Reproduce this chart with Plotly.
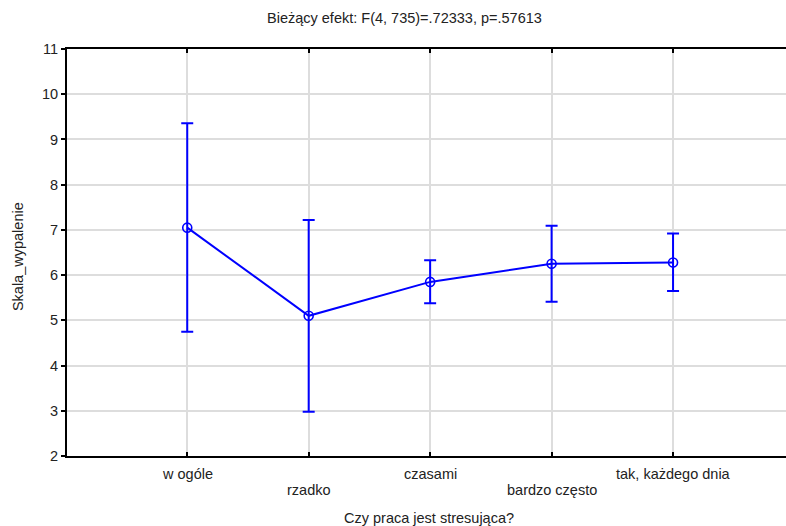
import plotly.graph_objects as go

categories = ["w ogóle", "rzadko", "czasami", "bardzo często", "tak, każdego dnia"]
means = [7.05, 5.10, 5.85, 6.25, 6.28]
upper = [9.36, 7.22, 6.33, 7.09, 6.92]
lower = [4.75, 2.98, 5.38, 5.41, 5.65]
y_ticks = [2, 3, 4, 5, 6, 7, 8, 9, 10, 11]

title_text = "Bieżący efekt: F(4, 735)=.72333, p=.57613"
x_title = "Czy praca jest stresująca?"
y_title = "Skala_wypalenie"

BLUE = "#0000FF"
FONT = "Liberation Sans, Arial, sans-serif"
FS = 14.5
TXT = "#222"

err_plus = [u - m for u, m in zip(upper, means)]
err_minus = [m - l for m, l in zip(means, lower)]

fig = go.Figure()
fig.add_trace(go.Scatter(
    x=categories, y=means, mode="lines+markers",
    line=dict(color=BLUE, width=2),
    marker=dict(symbol="circle-open", size=9, color=BLUE, line=dict(width=1.6, color=BLUE)),
    error_y=dict(type="data", symmetric=False, array=err_plus, arrayminus=err_minus,
                 color=BLUE, thickness=2, width=6),
    showlegend=False,
))

annotations = []
for i, c in enumerate(categories):
    annotations.append(dict(
        x=c, xref="x", y=0, yref="paper", yanchor="top", xanchor="center", showarrow=False,
        text=c, yshift=-8 if i % 2 == 0 else -24,
        font=dict(family=FONT, size=FS, color=TXT),
    ))
annotations.append(dict(text=title_text, xref="paper", yref="paper", x=0.469, y=1.076,
                        xanchor="center", yanchor="middle",
                        showarrow=False, font=dict(family=FONT, size=FS, color=TXT)))
annotations.append(dict(text=x_title, xref="paper", yref="paper", x=0.503, y=-0.152,
                        xanchor="center", yanchor="middle",
                        showarrow=False, font=dict(family=FONT, size=FS, color=TXT)))
annotations.append(dict(text=y_title, xref="paper", yref="paper", x=-0.068, y=0.489,
                        xanchor="center", yanchor="middle",
                        textangle=-90, showarrow=False, font=dict(family=FONT, size=FS, color=TXT)))

fig.update_layout(
    width=786, height=526,
    margin=dict(l=67, r=0, t=49, b=70),
    paper_bgcolor="white", plot_bgcolor="white",
    font=dict(family=FONT, size=FS, color=TXT),
    annotations=annotations,
    xaxis=dict(
        type="category", range=[-0.99, 4.93],
        showgrid=True, gridcolor="#dddddd", gridwidth=1.5,
        showline=True, linecolor="black", linewidth=2, mirror="ticks",
        ticks="inside", ticklen=4, tickwidth=2, tickcolor="black",
        showticklabels=False, zeroline=False,
    ),
    yaxis=dict(
        range=[2, 11], tickvals=y_ticks,
        showgrid=True, gridcolor="#dddddd", gridwidth=1.5,
        showline=True, linecolor="black", linewidth=2,
        ticks="outside", ticklen=4, tickwidth=1.5, tickcolor="black",
        tickfont=dict(family=FONT, size=FS, color=TXT), zeroline=False,
    ),
)

fig.write_html("out.html")
